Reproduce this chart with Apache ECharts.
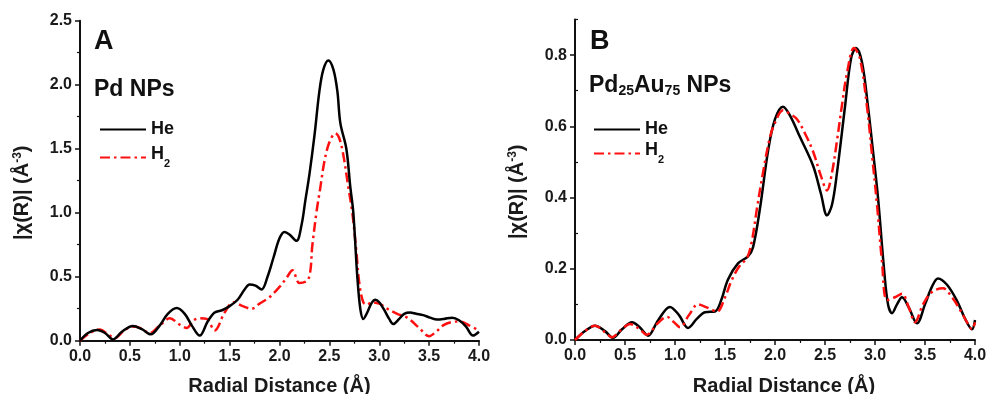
<!DOCTYPE html>
<html>
<head>
<meta charset="utf-8">
<script src="https://cdn.jsdelivr.net/npm/echarts@6/dist/echarts.min.js"></script>
<style>html,body{margin:0;padding:0;background:#fff}#c{width:989px;height:394px}</style>
</head>
<body>
<div id="c"></div>
<script>
// ---- data ----
var xTicks = ['0.0','0.5','1.0','1.5','2.0','2.5','3.0','3.5','4.0'];

var pdHeX = [0,0.08,0.17,0.25,0.33,0.42,0.53,0.62,0.71,0.8,0.88,0.97,1.05,1.12,1.2,1.28,1.35,1.43,1.5,1.58,1.65,1.7,1.76,1.82,1.88,1.94,2.0,2.05,2.1,2.17,2.22,2.26,2.3,2.35,2.4,2.44,2.49,2.54,2.58,2.61,2.67,2.71,2.74,2.78,2.81,2.84,2.88,2.92,2.96,3.0,3.05,3.1,3.14,3.2,3.25,3.31,3.37,3.44,3.51,3.58,3.65,3.73,3.8,3.87,3.94,4.0];
var pdHeY = [0,0.06,0.083,0.06,0.01,0.07,0.115,0.09,0.05,0.12,0.21,0.255,0.21,0.12,0.04,0.15,0.22,0.24,0.27,0.32,0.40,0.44,0.43,0.40,0.5,0.65,0.8,0.85,0.83,0.78,0.9,1.1,1.3,1.6,1.95,2.12,2.19,2.12,1.95,1.70,1.5,1.2,1.0,0.5,0.25,0.17,0.22,0.29,0.32,0.30,0.24,0.17,0.13,0.17,0.21,0.22,0.21,0.2,0.18,0.165,0.17,0.18,0.16,0.11,0.04,0.07];

var pdH2X = [0,0.1,0.2,0.28,0.35,0.43,0.52,0.6,0.7,0.8,0.9,1.0,1.07,1.14,1.2,1.27,1.35,1.45,1.54,1.63,1.72,1.8,1.9,2.0,2.07,2.13,2.2,2.29,2.33,2.37,2.41,2.45,2.5,2.56,2.6,2.64,2.69,2.73,2.77,2.8,2.84,2.88,2.92,3.0,3.08,3.18,3.28,3.4,3.5,3.57,3.64,3.72,3.81,3.9,4.0];
var pdH2Y = [0,0.06,0.088,0.05,0.02,0.07,0.11,0.1,0.06,0.12,0.175,0.125,0.1,0.16,0.175,0.17,0.08,0.22,0.30,0.27,0.25,0.29,0.34,0.42,0.49,0.55,0.45,0.48,0.75,1.0,1.2,1.4,1.55,1.62,1.58,1.45,1.2,1.0,0.7,0.45,0.3,0.28,0.30,0.29,0.25,0.21,0.18,0.1,0.035,0.07,0.12,0.145,0.15,0.12,0.08];

var auHeX = [0,0.1,0.2,0.3,0.38,0.47,0.57,0.65,0.73,0.83,0.95,1.04,1.13,1.22,1.3,1.4,1.46,1.53,1.63,1.73,1.78,1.85,1.93,2.0,2.08,2.15,2.25,2.38,2.46,2.52,2.57,2.62,2.70,2.76,2.81,2.87,2.93,2.98,3.03,3.09,3.13,3.17,3.22,3.27,3.34,3.42,3.5,3.57,3.63,3.72,3.82,3.9,3.97,4.0];
var auHeY = [0,0.025,0.04,0.025,0.006,0.03,0.05,0.035,0.012,0.055,0.093,0.07,0.034,0.06,0.078,0.08,0.11,0.17,0.215,0.235,0.26,0.37,0.53,0.62,0.655,0.63,0.57,0.49,0.41,0.35,0.38,0.47,0.655,0.79,0.82,0.78,0.655,0.53,0.4,0.2,0.1,0.075,0.1,0.12,0.09,0.047,0.1,0.15,0.173,0.155,0.11,0.06,0.03,0.056];

var auH2X = [0,0.1,0.2,0.3,0.37,0.46,0.55,0.64,0.72,0.82,0.92,0.99,1.05,1.14,1.23,1.33,1.42,1.5,1.57,1.65,1.72,1.77,1.82,1.88,1.95,2.0,2.08,2.15,2.22,2.3,2.38,2.46,2.52,2.57,2.62,2.67,2.72,2.79,2.85,2.92,2.97,3.02,3.07,3.12,3.2,3.27,3.34,3.4,3.48,3.57,3.68,3.77,3.85,3.92,3.97,4.0];
var auH2Y = [0,0.025,0.04,0.022,0.008,0.028,0.045,0.032,0.015,0.045,0.065,0.05,0.036,0.07,0.1,0.09,0.08,0.12,0.17,0.21,0.23,0.28,0.37,0.47,0.57,0.61,0.645,0.635,0.62,0.58,0.53,0.46,0.42,0.47,0.56,0.66,0.75,0.82,0.79,0.655,0.52,0.38,0.22,0.112,0.12,0.13,0.09,0.05,0.1,0.135,0.145,0.12,0.085,0.05,0.03,0.05];

var yTicksA = [0,0.5,1.0,1.5,2.0,2.5];
var yTicksB = [0,0.2,0.4,0.6,0.8];
var yMinorB = [0.1,0.3,0.5,0.7,0.9];

function pairs(xs, ys){ return xs.map(function(x,i){ return [x, ys[i]]; }); }

var FONT = 'Arial, "Liberation Sans", Helvetica, sans-serif';
var RED = '#ff1010';
var DASHDOT = [10,4,2.5,4];
var INK = '#1a1a1a';

var chart = echarts.init(document.getElementById('c'), null, {renderer:'canvas'});

function xAxisDef(gi, pad){
  return {
    type:'value', gridIndex:gi, min:0, max:4, interval:0.5,
    name:'Radial Distance (Å)', nameLocation:'middle', nameGap:36,
    nameTextStyle:{fontFamily:FONT, fontWeight:'bold', fontSize:20, color:INK, padding:pad},
    axisLine:{show:true, onZero:false, lineStyle:{color:'#111', width:2}},
    axisTick:{show:true, length:5, lineStyle:{color:'#111', width:1.5}},
    minorTick:{show:true, splitNumber:2, length:3, lineStyle:{color:'#111', width:1.2}},
    axisLabel:{fontFamily:FONT, fontWeight:'bold', fontSize:16, color:INK, margin:8,
      formatter:function(v){ return v.toFixed(1); }},
    splitLine:{show:false}, minorSplitLine:{show:false}
  };
}
var yNameStyle = {fontFamily:FONT, fontWeight:'bold', fontSize:20, color:INK, padding:[0,24,0,0],
  rich:{ sup:{fontFamily:FONT, fontWeight:'bold', fontSize:12, color:INK, verticalAlign:'top'} }};

var legendText = {fontFamily:FONT, fontWeight:'bold', fontSize:18, color:'#111', lineHeight:18,
  rich:{t:{fontFamily:FONT, fontWeight:'bold', fontSize:18, color:'#111', lineHeight:18, verticalAlign:'top'},
        s:{fontFamily:FONT, fontWeight:'bold', fontSize:11, color:'#111', lineHeight:24, verticalAlign:'bottom'}}};

var option = {
  animation:false,
  backgroundColor:'#fff',
  grid:[
    {left:80, top:20.7, width:399, height:320, outerBoundsMode:'none', containLabel:false},
    {left:575, top:19.5, width:400, height:320.5, outerBoundsMode:'none', containLabel:false}
  ],
  xAxis:[ xAxisDef(0, [0,0,0,0]), xAxisDef(1, [0,0,0,18]) ],
  yAxis:[
    {type:'value', gridIndex:0, min:0, max:2.5, interval:0.5,
     name:'|χ(R)| (Å{sup|-3})', nameLocation:'middle', nameGap:48, nameRotate:90,
     nameTextStyle:yNameStyle,
     axisLine:{show:true, onZero:false, lineStyle:{color:'#111', width:2}},
     axisTick:{show:true, length:5, lineStyle:{color:'#111', width:1.5}},
     minorTick:{show:true, splitNumber:2, length:3, lineStyle:{color:'#111', width:1.2}},
     axisLabel:{fontFamily:FONT, fontWeight:'bold', fontSize:16, color:INK, margin:8,
       formatter:function(v){ return v.toFixed(1); }},
     splitLine:{show:false}},
    {type:'value', gridIndex:1, min:0, max:0.9, interval:0.2,
     name:'|χ(R)| (Å{sup|-3})', nameLocation:'middle', nameGap:48, nameRotate:90,
     nameTextStyle:yNameStyle,
     axisLine:{show:true, onZero:false, lineStyle:{color:'#111', width:2}},
     axisTick:{show:true, length:5, customValues:yTicksB, lineStyle:{color:'#111', width:1.5}},
     axisLabel:{fontFamily:FONT, fontWeight:'bold', fontSize:16, color:INK, margin:8,
       customValues:yTicksB, formatter:function(v){ return v.toFixed(1); }},
     splitLine:{show:false}},
    {type:'value', gridIndex:1, min:0, max:0.9, interval:0.1,
     axisLine:{show:false},
     axisTick:{show:true, length:3, customValues:yMinorB, lineStyle:{color:'#111', width:1.2}},
     axisLabel:{show:false}, splitLine:{show:false}}
  ],
  legend:[
    {left:94, top:115.5, orient:'vertical', itemWidth:46, itemHeight:14, itemGap:7,
     data:['He','H2'], selectedMode:false, itemStyle:{opacity:0},
     formatter:function(n){ return n==='H2' ? '{t|H}{s|2}' : '{t|'+n+'}'; },
     textStyle:legendText},
    {left:588, top:115.5, orient:'vertical', itemWidth:46, itemHeight:14, itemGap:3,
     data:['He','H2'], selectedMode:false, itemStyle:{opacity:0},
     formatter:function(n){ return n==='H2' ? '{t|H}{s|2}' : '{t|'+n+'}'; },
     textStyle:legendText}
  ],
  graphic:[
    {type:'text', left:94, top:28, style:{text:'A', fontFamily:FONT, fontWeight:'bold', fontSize:27, fill:'#111'}},
    {type:'text', left:94, top:78, style:{text:'Pd NPs', fontFamily:FONT, fontWeight:'bold', fontSize:23, fill:'#111'}},
    {type:'text', left:590, top:28, style:{text:'B', fontFamily:FONT, fontWeight:'bold', fontSize:27, fill:'#111'}},
    {type:'text', left:589, top:72, style:{text:'{m|Pd}{s|25}{m|Au}{s|75}{m| NPs}',
      rich:{m:{fontFamily:FONT, fontWeight:'bold', fontSize:23, fill:'#111', lineHeight:25},
            s:{fontFamily:FONT, fontWeight:'bold', fontSize:14, fill:'#111', lineHeight:25, verticalAlign:'bottom', padding:[12,0,0,0]}}}}
  ],
  series:[
    {name:'He', type:'line', xAxisIndex:0, yAxisIndex:0, data:pairs(pdHeX,pdHeY), symbol:'none', smooth:0.35,
     lineStyle:{color:'#000', width:2.5}, itemStyle:{color:'#000'}, z:3},
    {name:'H2', type:'line', xAxisIndex:0, yAxisIndex:0, data:pairs(pdH2X,pdH2Y), symbol:'none', smooth:0.35,
     lineStyle:{color:RED, width:2.5, type:DASHDOT}, itemStyle:{color:RED}, z:2},
    {name:'He', type:'line', xAxisIndex:1, yAxisIndex:1, data:pairs(auHeX,auHeY), symbol:'none', smooth:0.35,
     lineStyle:{color:'#000', width:2.5}, itemStyle:{color:'#000'}, z:3},
    {name:'H2', type:'line', xAxisIndex:1, yAxisIndex:1, data:pairs(auH2X,auH2Y), symbol:'none', smooth:0.35,
     lineStyle:{color:RED, width:2.5, type:DASHDOT}, itemStyle:{color:RED}, z:4}
  ]
};
chart.setOption(option);
</script>
</body>
</html>
